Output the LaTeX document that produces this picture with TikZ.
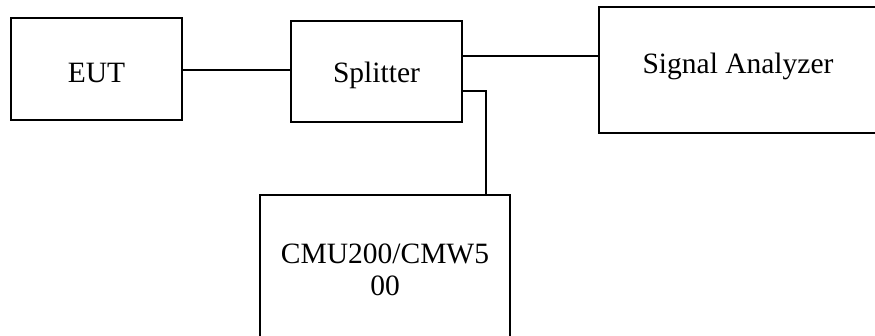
\documentclass[tikz,border=0pt]{standalone}
\usepackage{fontspec}
\setmainfont{Liberation Serif}
\begin{document}
\begin{tikzpicture}[x=1pt,y=-1pt,
  box/.style={draw,line width=1.3pt,inner sep=0pt,align=center,
    font=\fontsize{29.5}{32}\selectfont},
  wire/.style={line width=1.3pt}]
  \clip (0,0) rectangle (875,335);
  % Draw boxes
  \node[box,minimum width=171pt,minimum height=102pt,text height=27pt,text depth=0pt] (eut) at (96.5,69) {EUT};
  \node[box,minimum width=171pt,minimum height=101pt,text height=27pt,text depth=6pt] (splitter) at (376.5,71.5) {Splitter};
  \node[box,minimum width=278pt,minimum height=126pt,text height=20pt,text depth=14pt] (analyzer) at (738,70) {Signal Analyzer};
  \node[box,minimum width=250pt,minimum height=150pt] (cmu) at (385,270) {CMU200/CMW5\\00};
  % Connections
  \draw[wire] (eut.east |- 0,70) -- (splitter.west |- 0,70);
  \draw[wire] (splitter.east |- 0,56) -- (analyzer.west |- 0,56);
  \draw[wire] (splitter.east |- 0,91) -| (cmu.north -| 486,0);
\end{tikzpicture}
\end{document}
